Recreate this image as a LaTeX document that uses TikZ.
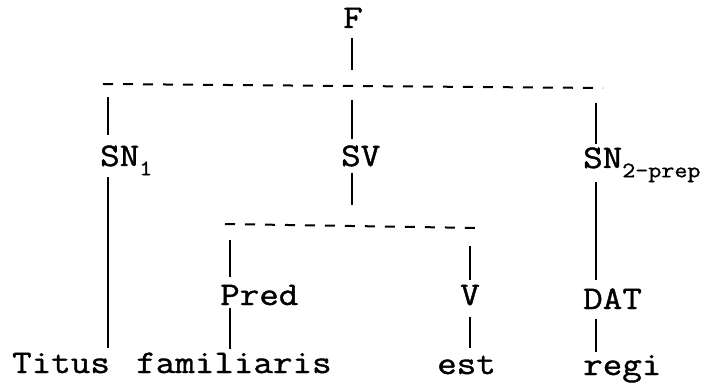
\documentclass[tikz,border=0pt]{standalone}
\usepackage{fontspec}
% typewriter face for the tree, widened a little and darkened
\newfontfamily\treefont{Latin Modern Mono}[FakeStretch=1.15,FakeBold=1.2]
% lowered, smaller index after a category label
\newcommand\treesub[1]{\raisebox{-0.28em}{\fontsize{22}{24}\selectfont #1}}
\begin{document}
\begin{tikzpicture}[x=1pt,y=-1pt,
  lbl/.style={inner sep=0pt, anchor=base west, font=\treefont\fontsize{33}{36}\selectfont},
  branch/.style={line width=2pt},
  bar/.style={line width=2pt, dash pattern=on 10pt off 10pt}]
\useasboundingbox (0,0) rectangle (703,387);

% category labels and words
\node[lbl] (F)     at (343,28)  {F};
\node[lbl] (SN1)   at (100,166) {SN\treesub{1}};
\node[lbl] (SV)    at (341,166) {SV};
\node[lbl] (SN2)   at (583,168) {SN\treesub{2-prep}};
\node[lbl] (Pred)  at (220,305) {Pred};
\node[lbl] (V)     at (460,305) {V};
\node[lbl] (DAT)   at (583,309) {DAT};
\node[lbl] (Titus) at (12,373)  {Titus};
\node[lbl] (fam)   at (136,373) {familiaris};
\node[lbl] (est)   at (437,374) {est};
\node[lbl] (regi)  at (583,375) {regi};

% dashed bars
\coordinate (b1l) at (103,84);  \coordinate (b1r) at (603,88);
\coordinate (b2l) at (225,224); \coordinate (b2r) at (478,228);
\draw[bar] (b1l) -- (b1r);
\draw[bar] (b2l) -- (b2r);

% upper ends of the strokes hanging from the bars
\coordinate (jF)    at (352,70);
\coordinate (jSN1)  at (108,97);
\coordinate (jSV)   at (352,100);
\coordinate (jSV2)  at (352,205);
\coordinate (jSN2)  at (596,103);
\coordinate (jPred) at (230,240);
\coordinate (jV)    at (470,246);

% F
\draw[branch, shorten <=10pt] (F.south -| jF) -- (jF);
% first level
\draw[branch, shorten >=10pt] (jSN1) -- (jSN1 |- SN1.north);
\draw[branch, shorten >=6pt]  (jSV) -- (jSV |- SV.north);
\draw[branch, shorten >=3pt]  (jSN2) -- (jSN2 |- SN2.north);
% below the first level
\draw[branch, shorten <=2pt, shorten >=5pt] (SN1.south -| jSN1) -- (Titus.north -| jSN1);
\draw[branch, shorten <=6pt] (SV.south -| jSV) -- (jSV2);
\draw[branch, shorten >=8pt] (SN2.south -| jSN2) -- (DAT.north -| jSN2);
% second level
\draw[branch, shorten >=8pt] (jPred) -- (jPred |- Pred.north);
\draw[branch, shorten >=5pt] (jV) -- (jV |- V.north);
\draw[branch, shorten <=3pt, shorten >=3pt] (Pred.south -| jPred) -- (fam.north -| jPred);
\draw[branch, shorten <=12pt, shorten >=8pt] (V.south -| jV) -- (est.north -| jV);
\draw[branch, shorten <=10pt, shorten >=3pt] (DAT.south -| jSN2) -- (regi.north -| jSN2);
\end{tikzpicture}
\end{document}
